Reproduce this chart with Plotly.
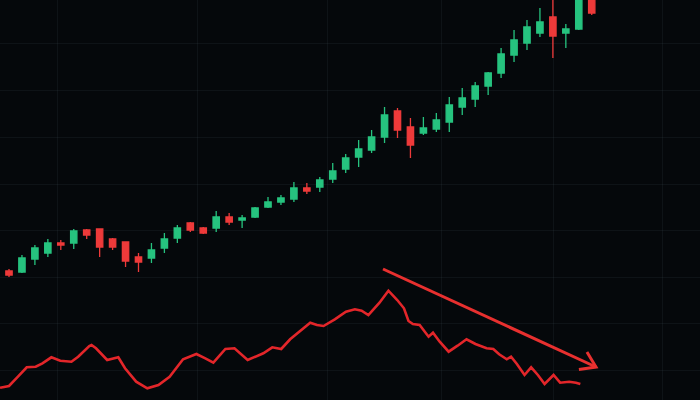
import plotly.graph_objects as go

# ---- candlestick data (bar index, price units) ----
bar_index = list(range(46))
opens  = [129,128,141,147,157,157,170,171,161,158,143,142,152,162,177,172,172,183,180,183,
          193,198,201,212,213,221,231,243,250,263,289,273,267,271,278,293,301,314,327,345,
          357,367,383,367,371,410]
closes = [125,142,152,157,155,169,165,153,153,139,138,150,161,172,170,167,183,178,182,192,
          198,202,212,209,220,229,242,251,263,285,270,255,272,280,295,302,314,327,346,360,
          373,378,364,371,405,387]
highs  = [131,145,155,161,160,171,171,171,162,158,147,157,167,175,178,173,189,187,185,193,
          203,205,218,217,223,237,246,260,270,293,292,282,283,287,303,312,318,328,352,370,
          380,392,402,376,410,412]
lows   = [123,127,135,143,150,151,161,143,150,133,128,137,147,157,168,166,168,175,172,182,
          192,195,198,206,208,217,227,233,247,257,262,242,265,268,268,285,293,305,322,338,
          350,363,342,352,370,385]

# ---- oscillator line (fractional bar time, indicator value) ----
osc_t = [-0.69,0.0,0.69,1.37,2.06,2.58,3.27,3.96,4.82,5.34,6.20,6.37,6.72,7.58,8.44,8.96,
         9.82,10.68,11.54,12.40,13.44,14.47,15.16,15.78,16.71,17.41,18.43,19.13,19.64,20.33,
         21.02,21.71,23.26,23.78,24.29,25.16,26.02,26.71,27.23,27.75,28.61,29.30,29.98,30.50,
         30.85,31.19,31.71,32.40,32.74,33.26,33.95,34.64,35.33,36.02,36.88,37.40,37.85,38.44,
         38.77,39.22,39.81,40.32,40.84,41.36,42.05,42.56,43.26,43.78,44.12]
osc_v = [12.3,14,23.3,32.7,33.3,36.7,42.7,39.3,38.3,43.3,54,55,51.7,40,42.7,31.7,
         18.3,11.7,15,23.3,40.7,46,41.7,37.3,51,51.7,40,44,46.7,52.7,
         51,60.7,77.3,75,74,80.7,88.3,90.7,89.3,85,97.3,109.3,100,91.7,
         79,76,75,63.3,67.3,58.3,48.3,54.3,60.7,56,51.7,51,45.7,40.7,
         43.3,36,25,32.7,25,16,25,17.3,18.3,17.3,16]

# ---- divergence arrow (tail -> tip, then chevron arms) ----
arrow_t = [28.88, 45.33, None, 44.01, 45.33, 44.63]
arrow_v = [131, 33, None, 30.5, 33, 48]

# grid positions
grid_t = [3.78, 14.52, 24.63, 33.36, 42.01, 50.43]
grid_v = [30, 77, 123, 170, 216, 263, 310, 357]

GREEN = "#26c37f"
RED = "#ee3a3a"
BG = "#05080b"

fig = go.Figure()
fig.add_trace(go.Candlestick(
    x=bar_index, open=opens, high=highs, low=lows, close=closes,
    increasing=dict(line=dict(color=GREEN, width=1.3), fillcolor=GREEN),
    decreasing=dict(line=dict(color=RED, width=1.3), fillcolor=RED),
    whiskerwidth=0, showlegend=False, hoverinfo="skip",
))
fig.add_trace(go.Scatter(
    x=osc_t, y=osc_v, mode="lines",
    line=dict(color="#e3262a", width=2.6, shape="linear"),
    showlegend=False, hoverinfo="skip",
))
fig.add_trace(go.Scatter(
    x=arrow_t, y=arrow_v, mode="lines",
    line=dict(color="#e8302f", width=3),
    showlegend=False, hoverinfo="skip",
))

fig.update_layout(
    width=700, height=400,
    margin=dict(l=0, r=0, t=0, b=0),
    paper_bgcolor=BG,
    plot_bgcolor=BG,
    xaxis=dict(range=[-0.695, 53.36], tickvals=grid_t, showticklabels=False,
               showgrid=True, gridcolor="rgba(110,130,140,0.09)", gridwidth=1,
               zeroline=False, rangeslider=dict(visible=False), fixedrange=True),
    yaxis=dict(range=[0, 400], tickvals=grid_v, showticklabels=False,
               showgrid=True, gridcolor="rgba(110,130,140,0.09)", gridwidth=1,
               zeroline=False, fixedrange=True),
)

fig.write_html(
    "out.html",
    config={"displayModeBar": False, "staticPlot": True},
    post_script="document.body.style.margin='0';document.body.style.padding='0';"
                "document.body.style.background='" + BG + "';",
)
